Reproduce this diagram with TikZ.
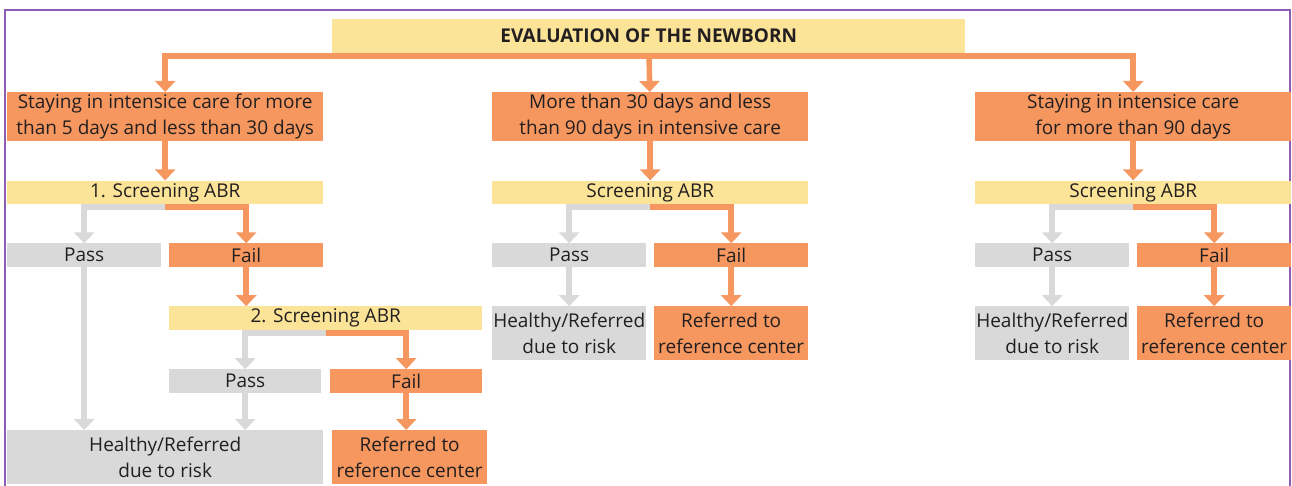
\documentclass[tikz,border=0pt]{standalone}
\usepackage{fontspec}
\setmainfont{Open Sans}
\usetikzlibrary{arrows.meta,positioning}
\definecolor{boxorange}{HTML}{F5975F}
\definecolor{boxyellow}{HTML}{FBE398}
\definecolor{boxgray}{HTML}{D9D9D9}
\definecolor{framepurple}{HTML}{8E5BB5}
\definecolor{ink}{HTML}{231F20}
\tikzset{
  base/.style={inner sep=0pt,align=center,text=ink,font=\fontsize{19}{26}\selectfont},
  orbox/.style={base,fill=boxorange},
  ylbox/.style={base,fill=boxyellow},
  grbox/.style={base,fill=boxgray},
  wide/.style={minimum width=316pt},
  half/.style={minimum width=154pt},
  strip/.style={minimum height=23.5pt},
  block/.style={minimum height=49pt},
  twoline/.style={minimum height=53.5pt},
  orarrow/.style={-{Triangle[width=20pt,length=11pt]},draw=boxorange,line width=5.5pt},
  grarrow/.style={-{Triangle[width=20pt,length=11pt]},draw=boxgray,line width=5.5pt}
}
\begin{document}
\begin{tikzpicture}[x=1pt,y=-1pt,node distance=39pt]
  \useasboundingbox (0,0) rectangle (1292,486);
  \draw[framepurple,line width=1.2pt] (5,486) -- (5,10) -- (1290,10) -- (1290,486);
  % title
  \node[ylbox,minimum width=633pt,minimum height=34pt,anchor=north west,
    font=\bfseries\fontsize{19}{20}\selectfont] (t) at (332,19) {EVALUATION OF THE NEWBORN};
  % left branch
  \node[orbox,wide,block,anchor=north west] (a1) at (7,92) {Staying in intensice care for more\\than 5 days and less than 30 days};
  \node[ylbox,wide,strip,below=of a1] (s1) {1. Screening ABR};
  \node[grbox,half,strip,below=of s1.south west,anchor=north west] (p1) {Pass};
  \node[orbox,half,strip,below=of s1.south east,anchor=north east] (f1) {Fail};
  \node[ylbox,minimum width=313pt,strip,below=of f1.south west,anchor=north west] (s2) {2. Screening ABR};
  \node[grbox,minimum width=152pt,strip,below=of s2.south west,anchor=north west] (p2) {Pass};
  \node[orbox,minimum width=152pt,strip,below=of s2.south east,anchor=north east] (f2) {Fail};
  \node[grbox,wide,twoline,anchor=north west] (h1) at (7,430) {Healthy/Referred\\due to risk};
  \node[orbox,minimum width=155pt,twoline,anchor=north west] (r1) at (332,430) {Referred to\\reference center};
  % middle branch
  \node[orbox,wide,block,anchor=north west] (a2) at (492,92) {More than 30 days and less\\than 90 days in intensive care};
  \node[ylbox,wide,strip,below=of a2] (s3) {Screening ABR};
  \node[grbox,half,strip,below=of s3.south west,anchor=north west] (p3) {Pass};
  \node[orbox,half,strip,below=of s3.south east,anchor=north east] (f3) {Fail};
  \node[grbox,half,twoline,below=of p3] (h3) {Healthy/Referred\\due to risk};
  \node[orbox,half,twoline,below=of f3] (r3) {Referred to\\reference center};
  % right branch
  \node[orbox,wide,block,anchor=north west] (a4) at (975,92) {Staying in intensice care\\for more than 90 days};
  \node[ylbox,wide,strip,below=of a4] (s4) {Screening ABR};
  \node[grbox,half,strip,below=of s4.south west,anchor=north west] (p4) {Pass};
  \node[orbox,half,strip,below=of s4.south east,anchor=north east] (f4) {Fail};
  \node[grbox,half,twoline,below=of p4] (h4) {Healthy/Referred\\due to risk};
  \node[orbox,half,twoline,below=of f4] (r4) {Referred to\\reference center};
  % connectors
  \draw[orarrow] (t) -- (a2);
  \draw[orarrow] ([yshift=-2.75pt]t.south) -| (a1);
  \draw[orarrow] ([yshift=-2.75pt]t.south) -| (a4);
  \foreach \s/\a/\p/\f in {s1/a1/p1/f1,s2/f1/p2/f2,s3/a2/p3/f3,s4/a4/p4/f4}{
    \draw[orarrow] (\a) -- (\a |- \s.north);
    \draw[grarrow] ([yshift=-2.75pt]\s.south) -| (\p);
    \draw[orarrow] ([yshift=-2.75pt]\s.south) -| (\f);
  }
  \draw[grarrow] (p1) -- (p1 |- h1.north);
  \draw[grarrow] (p2) -- (p2 |- h1.north);
  \draw[orarrow] (f2) -- (f2 |- r1.north);
  \draw[grarrow] (p3) -- (h3);
  \draw[orarrow] (f3) -- (r3);
  \draw[grarrow] (p4) -- (h4);
  \draw[orarrow] (f4) -- (r4);
\end{tikzpicture}
\end{document}
